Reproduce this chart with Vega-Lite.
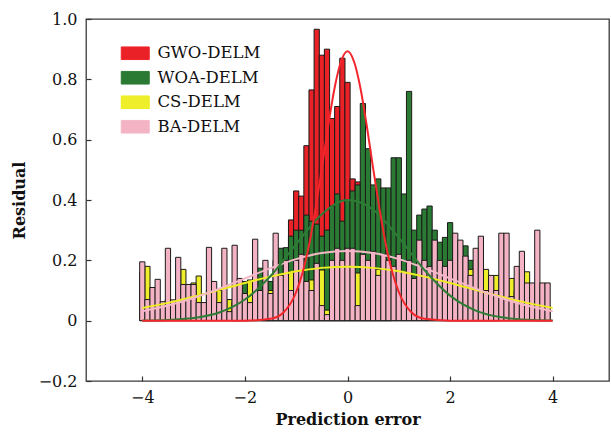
{
 "$schema": "https://vega.github.io/schema/vega-lite/v6.json",
 "width": 523, "height": 362,
 "autosize": {"type": "none"},
 "padding": {"left": 86, "top": 19, "right": 2, "bottom": 54},
 "background": "white",
 "config": {"view": {"stroke": "#3a3a3a", "strokeWidth": 1.3}, "font": "DejaVu Serif"},
 "datasets": {
  "bars": [
   {"s":"GWO-DELM","x":-1.6,"v":0.02},{"s":"GWO-DELM","x":-1.5,"v":0.05},{"s":"GWO-DELM","x":-1.4,"v":0.1},{"s":"GWO-DELM","x":-1.3,"v":0.2},{"s":"GWO-DELM","x":-1.2,"v":0.22},{"s":"GWO-DELM","x":-1.1,"v":0.334},{"s":"GWO-DELM","x":-1.0,"v":0.43},{"s":"GWO-DELM","x":-0.9,"v":0.413},{"s":"GWO-DELM","x":-0.8,"v":0.58},{"s":"GWO-DELM","x":-0.7,"v":0.765},{"s":"GWO-DELM","x":-0.6,"v":0.966},{"s":"GWO-DELM","x":-0.5,"v":0.88},{"s":"GWO-DELM","x":-0.4,"v":0.9},{"s":"GWO-DELM","x":-0.3,"v":0.67},{"s":"GWO-DELM","x":-0.2,"v":0.71},{"s":"GWO-DELM","x":-0.1,"v":0.87},{"s":"GWO-DELM","x":0.0,"v":0.79},{"s":"GWO-DELM","x":0.1,"v":0.47},{"s":"GWO-DELM","x":0.2,"v":0.46},{"s":"GWO-DELM","x":0.3,"v":0.42},{"s":"GWO-DELM","x":0.4,"v":0.36},{"s":"GWO-DELM","x":0.5,"v":0.33},{"s":"GWO-DELM","x":0.6,"v":0.2},{"s":"GWO-DELM","x":0.7,"v":0.08},{"s":"GWO-DELM","x":0.8,"v":0.03},
   {"s":"WOA-DELM","x":-2.2,"v":0.02},{"s":"WOA-DELM","x":-2.1,"v":0.03},{"s":"WOA-DELM","x":-2.0,"v":0.13},{"s":"WOA-DELM","x":-1.9,"v":0.1},{"s":"WOA-DELM","x":-1.8,"v":0.1},{"s":"WOA-DELM","x":-1.7,"v":0.174},{"s":"WOA-DELM","x":-1.6,"v":0.12},{"s":"WOA-DELM","x":-1.5,"v":0.13},{"s":"WOA-DELM","x":-1.4,"v":0.2},{"s":"WOA-DELM","x":-1.3,"v":0.24},{"s":"WOA-DELM","x":-1.2,"v":0.242},{"s":"WOA-DELM","x":-1.1,"v":0.28},{"s":"WOA-DELM","x":-1.0,"v":0.3},{"s":"WOA-DELM","x":-0.9,"v":0.3},{"s":"WOA-DELM","x":-0.8,"v":0.35},{"s":"WOA-DELM","x":-0.7,"v":0.33},{"s":"WOA-DELM","x":-0.6,"v":0.32},{"s":"WOA-DELM","x":-0.5,"v":0.28},{"s":"WOA-DELM","x":-0.4,"v":0.3},{"s":"WOA-DELM","x":-0.3,"v":0.38},{"s":"WOA-DELM","x":-0.2,"v":0.42},{"s":"WOA-DELM","x":-0.1,"v":0.33},{"s":"WOA-DELM","x":0.0,"v":0.4},{"s":"WOA-DELM","x":0.1,"v":0.43},{"s":"WOA-DELM","x":0.2,"v":0.45},{"s":"WOA-DELM","x":0.3,"v":0.72},{"s":"WOA-DELM","x":0.4,"v":0.57},{"s":"WOA-DELM","x":0.5,"v":0.45},{"s":"WOA-DELM","x":0.6,"v":0.47},{"s":"WOA-DELM","x":0.7,"v":0.44},{"s":"WOA-DELM","x":0.8,"v":0.44},{"s":"WOA-DELM","x":0.9,"v":0.54},{"s":"WOA-DELM","x":1.0,"v":0.54},{"s":"WOA-DELM","x":1.1,"v":0.42},{"s":"WOA-DELM","x":1.2,"v":0.76},{"s":"WOA-DELM","x":1.3,"v":0.3},{"s":"WOA-DELM","x":1.4,"v":0.35},{"s":"WOA-DELM","x":1.5,"v":0.37},{"s":"WOA-DELM","x":1.6,"v":0.38},{"s":"WOA-DELM","x":1.7,"v":0.3},{"s":"WOA-DELM","x":1.8,"v":0.26},{"s":"WOA-DELM","x":1.9,"v":0.276},{"s":"WOA-DELM","x":2.0,"v":0.325},{"s":"WOA-DELM","x":2.1,"v":0.2},{"s":"WOA-DELM","x":2.2,"v":0.22},{"s":"WOA-DELM","x":2.3,"v":0.248},{"s":"WOA-DELM","x":2.4,"v":0.2},{"s":"WOA-DELM","x":2.5,"v":0.1},{"s":"WOA-DELM","x":2.6,"v":0.08},{"s":"WOA-DELM","x":2.7,"v":0.05},{"s":"WOA-DELM","x":2.8,"v":0.02},{"s":"WOA-DELM","x":2.9,"v":0.01},
   {"s":"CS-DELM","x":-4.0,"v":0.16},{"s":"CS-DELM","x":-3.9,"v":0.18},{"s":"CS-DELM","x":-3.8,"v":0.05},{"s":"CS-DELM","x":-3.7,"v":0.06},{"s":"CS-DELM","x":-3.6,"v":0.04},{"s":"CS-DELM","x":-3.5,"v":0.07},{"s":"CS-DELM","x":-3.4,"v":0.05},{"s":"CS-DELM","x":-3.3,"v":0.1},{"s":"CS-DELM","x":-3.2,"v":0.17},{"s":"CS-DELM","x":-3.1,"v":0.08},{"s":"CS-DELM","x":-3.0,"v":0.125},{"s":"CS-DELM","x":-2.9,"v":0.148},{"s":"CS-DELM","x":-2.8,"v":0.04},{"s":"CS-DELM","x":-2.7,"v":0.1},{"s":"CS-DELM","x":-2.6,"v":0.05},{"s":"CS-DELM","x":-2.5,"v":0.1},{"s":"CS-DELM","x":-2.4,"v":0.07},{"s":"CS-DELM","x":-2.3,"v":0.07},{"s":"CS-DELM","x":-2.2,"v":0.06},{"s":"CS-DELM","x":-2.1,"v":0.08},{"s":"CS-DELM","x":-2.0,"v":0.05},{"s":"CS-DELM","x":-1.9,"v":0.135},{"s":"CS-DELM","x":-1.8,"v":0.05},{"s":"CS-DELM","x":-1.7,"v":0.08},{"s":"CS-DELM","x":-1.6,"v":0.06},{"s":"CS-DELM","x":-1.5,"v":0.1},{"s":"CS-DELM","x":-1.4,"v":0.05},{"s":"CS-DELM","x":-1.3,"v":0.13},{"s":"CS-DELM","x":-1.2,"v":0.08},{"s":"CS-DELM","x":-1.1,"v":0.162},{"s":"CS-DELM","x":-1.0,"v":0.06},{"s":"CS-DELM","x":-0.9,"v":0.13},{"s":"CS-DELM","x":-0.8,"v":0.06},{"s":"CS-DELM","x":-0.7,"v":0.135},{"s":"CS-DELM","x":-0.6,"v":0.05},{"s":"CS-DELM","x":-0.5,"v":0.168},{"s":"CS-DELM","x":-0.4,"v":0.035},{"s":"CS-DELM","x":-0.3,"v":0.1},{"s":"CS-DELM","x":-0.2,"v":0.05},{"s":"CS-DELM","x":-0.1,"v":0.15},{"s":"CS-DELM","x":0.0,"v":0.1},{"s":"CS-DELM","x":0.1,"v":0.05},{"s":"CS-DELM","x":0.2,"v":0.158},{"s":"CS-DELM","x":0.3,"v":0.04},{"s":"CS-DELM","x":0.4,"v":0.14},{"s":"CS-DELM","x":0.5,"v":0.06},{"s":"CS-DELM","x":0.6,"v":0.17},{"s":"CS-DELM","x":0.7,"v":0.07},{"s":"CS-DELM","x":0.8,"v":0.1},{"s":"CS-DELM","x":0.9,"v":0.15},{"s":"CS-DELM","x":1.0,"v":0.06},{"s":"CS-DELM","x":1.1,"v":0.12},{"s":"CS-DELM","x":1.2,"v":0.08},{"s":"CS-DELM","x":1.3,"v":0.14},{"s":"CS-DELM","x":1.4,"v":0.06},{"s":"CS-DELM","x":1.5,"v":0.1},{"s":"CS-DELM","x":1.6,"v":0.08},{"s":"CS-DELM","x":1.7,"v":0.07},{"s":"CS-DELM","x":1.8,"v":0.09},{"s":"CS-DELM","x":1.9,"v":0.06},{"s":"CS-DELM","x":2.0,"v":0.1},{"s":"CS-DELM","x":2.1,"v":0.07},{"s":"CS-DELM","x":2.2,"v":0.05},{"s":"CS-DELM","x":2.3,"v":0.06},{"s":"CS-DELM","x":2.4,"v":0.17},{"s":"CS-DELM","x":2.5,"v":0.06},{"s":"CS-DELM","x":2.6,"v":0.05},{"s":"CS-DELM","x":2.7,"v":0.17},{"s":"CS-DELM","x":2.8,"v":0.12},{"s":"CS-DELM","x":2.9,"v":0.15},{"s":"CS-DELM","x":3.0,"v":0.05},{"s":"CS-DELM","x":3.1,"v":0.08},{"s":"CS-DELM","x":3.2,"v":0.14},{"s":"CS-DELM","x":3.3,"v":0.1},{"s":"CS-DELM","x":3.4,"v":0.06},{"s":"CS-DELM","x":3.5,"v":0.162},{"s":"CS-DELM","x":3.6,"v":0.05},{"s":"CS-DELM","x":3.7,"v":0.08},{"s":"CS-DELM","x":3.8,"v":0.06},{"s":"CS-DELM","x":3.9,"v":0.05},
   {"s":"BA-DELM","x":-4.0,"v":0.195},{"s":"BA-DELM","x":-3.9,"v":0.07},{"s":"BA-DELM","x":-3.8,"v":0.11},{"s":"BA-DELM","x":-3.7,"v":0.137},{"s":"BA-DELM","x":-3.6,"v":0.063},{"s":"BA-DELM","x":-3.5,"v":0.24},{"s":"BA-DELM","x":-3.4,"v":0.069},{"s":"BA-DELM","x":-3.3,"v":0.21},{"s":"BA-DELM","x":-3.2,"v":0.12},{"s":"BA-DELM","x":-3.1,"v":0.12},{"s":"BA-DELM","x":-3.0,"v":0.12},{"s":"BA-DELM","x":-2.9,"v":0.06},{"s":"BA-DELM","x":-2.8,"v":0.06},{"s":"BA-DELM","x":-2.7,"v":0.243},{"s":"BA-DELM","x":-2.6,"v":0.13},{"s":"BA-DELM","x":-2.5,"v":0.06},{"s":"BA-DELM","x":-2.4,"v":0.24},{"s":"BA-DELM","x":-2.3,"v":0.03},{"s":"BA-DELM","x":-2.2,"v":0.25},{"s":"BA-DELM","x":-2.1,"v":0.14},{"s":"BA-DELM","x":-2.0,"v":0.09},{"s":"BA-DELM","x":-1.9,"v":0.06},{"s":"BA-DELM","x":-1.8,"v":0.27},{"s":"BA-DELM","x":-1.7,"v":0.1},{"s":"BA-DELM","x":-1.6,"v":0.2},{"s":"BA-DELM","x":-1.5,"v":0.09},{"s":"BA-DELM","x":-1.4,"v":0.29},{"s":"BA-DELM","x":-1.3,"v":0.15},{"s":"BA-DELM","x":-1.2,"v":0.2},{"s":"BA-DELM","x":-1.1,"v":0.1},{"s":"BA-DELM","x":-1.0,"v":0.2},{"s":"BA-DELM","x":-0.9,"v":0.22},{"s":"BA-DELM","x":-0.8,"v":0.13},{"s":"BA-DELM","x":-0.7,"v":0.1},{"s":"BA-DELM","x":-0.6,"v":0.19},{"s":"BA-DELM","x":-0.5,"v":0.05},{"s":"BA-DELM","x":-0.4,"v":0.02},{"s":"BA-DELM","x":-0.3,"v":0.2},{"s":"BA-DELM","x":-0.2,"v":0.24},{"s":"BA-DELM","x":-0.1,"v":0.2},{"s":"BA-DELM","x":0.0,"v":0.24},{"s":"BA-DELM","x":0.1,"v":0.24},{"s":"BA-DELM","x":0.2,"v":0.05},{"s":"BA-DELM","x":0.3,"v":0.22},{"s":"BA-DELM","x":0.4,"v":0.2},{"s":"BA-DELM","x":0.5,"v":0.23},{"s":"BA-DELM","x":0.6,"v":0.15},{"s":"BA-DELM","x":0.7,"v":0.22},{"s":"BA-DELM","x":0.8,"v":0.2},{"s":"BA-DELM","x":0.9,"v":0.18},{"s":"BA-DELM","x":1.0,"v":0.22},{"s":"BA-DELM","x":1.1,"v":0.16},{"s":"BA-DELM","x":1.2,"v":0.2},{"s":"BA-DELM","x":1.3,"v":0.14},{"s":"BA-DELM","x":1.4,"v":0.267},{"s":"BA-DELM","x":1.5,"v":0.2},{"s":"BA-DELM","x":1.6,"v":0.18},{"s":"BA-DELM","x":1.7,"v":0.267},{"s":"BA-DELM","x":1.8,"v":0.2},{"s":"BA-DELM","x":1.9,"v":0.18},{"s":"BA-DELM","x":2.0,"v":0.2},{"s":"BA-DELM","x":2.1,"v":0.29},{"s":"BA-DELM","x":2.2,"v":0.267},{"s":"BA-DELM","x":2.3,"v":0.214},{"s":"BA-DELM","x":2.4,"v":0.15},{"s":"BA-DELM","x":2.5,"v":0.24},{"s":"BA-DELM","x":2.6,"v":0.28},{"s":"BA-DELM","x":2.7,"v":0.1},{"s":"BA-DELM","x":2.8,"v":0.15},{"s":"BA-DELM","x":2.9,"v":0.1},{"s":"BA-DELM","x":3.0,"v":0.29},{"s":"BA-DELM","x":3.1,"v":0.29},{"s":"BA-DELM","x":3.2,"v":0.08},{"s":"BA-DELM","x":3.3,"v":0.18},{"s":"BA-DELM","x":3.4,"v":0.23},{"s":"BA-DELM","x":3.5,"v":0.125},{"s":"BA-DELM","x":3.6,"v":0.125},{"s":"BA-DELM","x":3.7,"v":0.3},{"s":"BA-DELM","x":3.8,"v":0.125},{"s":"BA-DELM","x":3.9,"v":0.125}
  ],
  "curves": [
   {"s":"CS-DELM","x":-4,"v":0.042},{"s":"CS-DELM","x":-3.5,"v":0.059},{"s":"CS-DELM","x":-3,"v":0.079},{"s":"CS-DELM","x":-2.5,"v":0.102},{"s":"CS-DELM","x":-2,"v":0.125},{"s":"CS-DELM","x":-1.5,"v":0.146},{"s":"CS-DELM","x":-1,"v":0.164},{"s":"CS-DELM","x":-0.5,"v":0.175},{"s":"CS-DELM","x":0,"v":0.179},{"s":"CS-DELM","x":0.5,"v":0.175},{"s":"CS-DELM","x":1,"v":0.164},{"s":"CS-DELM","x":1.5,"v":0.146},{"s":"CS-DELM","x":2,"v":0.125},{"s":"CS-DELM","x":2.5,"v":0.102},{"s":"CS-DELM","x":3,"v":0.079},{"s":"CS-DELM","x":3.5,"v":0.059},{"s":"CS-DELM","x":4,"v":0.042},
   {"s":"BA-DELM","x":-4,"v":0.031},{"s":"BA-DELM","x":-3.5,"v":0.05},{"s":"BA-DELM","x":-3,"v":0.075},{"s":"BA-DELM","x":-2.5,"v":0.106},{"s":"BA-DELM","x":-2,"v":0.14},{"s":"BA-DELM","x":-1.5,"v":0.174},{"s":"BA-DELM","x":-1,"v":0.204},{"s":"BA-DELM","x":-0.5,"v":0.224},{"s":"BA-DELM","x":0,"v":0.231},{"s":"BA-DELM","x":0.5,"v":0.224},{"s":"BA-DELM","x":1,"v":0.204},{"s":"BA-DELM","x":1.5,"v":0.174},{"s":"BA-DELM","x":2,"v":0.14},{"s":"BA-DELM","x":2.5,"v":0.106},{"s":"BA-DELM","x":3,"v":0.075},{"s":"BA-DELM","x":3.5,"v":0.05},{"s":"BA-DELM","x":4,"v":0.031},
   {"s":"WOA-DELM","x":-4,"v":0.0005},{"s":"WOA-DELM","x":-3.5,"v":0.0022},{"s":"WOA-DELM","x":-3,"v":0.0086},{"s":"WOA-DELM","x":-2.5,"v":0.027},{"s":"WOA-DELM","x":-2,"v":0.07},{"s":"WOA-DELM","x":-1.5,"v":0.148},{"s":"WOA-DELM","x":-1,"v":0.254},{"s":"WOA-DELM","x":-0.5,"v":0.353},{"s":"WOA-DELM","x":0,"v":0.3996},{"s":"WOA-DELM","x":0.5,"v":0.368},{"s":"WOA-DELM","x":1,"v":0.275},{"s":"WOA-DELM","x":1.5,"v":0.168},{"s":"WOA-DELM","x":2,"v":0.083},{"s":"WOA-DELM","x":2.5,"v":0.0335},{"s":"WOA-DELM","x":3,"v":0.011},{"s":"WOA-DELM","x":3.5,"v":0.003},{"s":"WOA-DELM","x":4,"v":0.0006},
   {"s":"GWO-DELM","x":-4,"v":0},{"s":"GWO-DELM","x":-2,"v":0.0001},{"s":"GWO-DELM","x":-1.5,"v":0.006},{"s":"GWO-DELM","x":-1.25,"v":0.027},{"s":"GWO-DELM","x":-1,"v":0.095},{"s":"GWO-DELM","x":-0.875,"v":0.16},{"s":"GWO-DELM","x":-0.75,"v":0.25},{"s":"GWO-DELM","x":-0.625,"v":0.37},{"s":"GWO-DELM","x":-0.5,"v":0.505},{"s":"GWO-DELM","x":-0.375,"v":0.647},{"s":"GWO-DELM","x":-0.25,"v":0.773},{"s":"GWO-DELM","x":-0.125,"v":0.86},{"s":"GWO-DELM","x":0,"v":0.893},{"s":"GWO-DELM","x":0.125,"v":0.86},{"s":"GWO-DELM","x":0.25,"v":0.773},{"s":"GWO-DELM","x":0.375,"v":0.647},{"s":"GWO-DELM","x":0.5,"v":0.505},{"s":"GWO-DELM","x":0.625,"v":0.37},{"s":"GWO-DELM","x":0.75,"v":0.25},{"s":"GWO-DELM","x":0.875,"v":0.16},{"s":"GWO-DELM","x":1,"v":0.095},{"s":"GWO-DELM","x":1.25,"v":0.027},{"s":"GWO-DELM","x":1.5,"v":0.006},{"s":"GWO-DELM","x":2,"v":0.0001},{"s":"GWO-DELM","x":4,"v":0}
  ]
 },
 "layer": [
  {
   "data": {"name": "bars"},
   "mark": {"type": "bar", "width": 5.23, "stroke": "#1a1a1a", "strokeWidth": 1, "opacity": 1},
   "encoding": {
    "x": {"field": "x", "type": "quantitative",
      "scale": {"domain": [-5, 5], "nice": false, "zero": false},
      "axis": {"values": [-4, -2, 0, 2, 4], "title": "Prediction error", "grid": false, "domain": false,
        "tickSize": -5, "tickColor": "#333", "tickWidth": 1.2,
        "labelFont": "DejaVu Serif", "labelFontSize": 16, "labelColor": "#111", "labelPadding": 13,
        "titleFont": "DejaVu Serif", "titleFontSize": 16, "titleFontWeight": "bold", "titleColor": "#111", "titlePadding": 6}},
    "y": {"field": "v", "type": "quantitative",
      "scale": {"domain": [-0.2, 1.0], "nice": false, "zero": false},
      "axis": {"values": [-0.2, 0, 0.2, 0.4, 0.6, 0.8, 1.0], "labelExpr": "datum.value == 0 ? '0' : format(datum.value, '.1f')",
        "title": "Residual", "grid": false, "domain": false,
        "tickSize": -5, "tickColor": "#333", "tickWidth": 1.2,
        "labelFont": "DejaVu Serif", "labelFontSize": 16, "labelColor": "#111", "labelPadding": 14,
        "titleFont": "DejaVu Serif", "titleFontSize": 16, "titleFontWeight": "bold", "titleColor": "#111", "titlePadding": 11}},
    "y2": {"datum": 0},
    "fill": {"field": "s", "type": "nominal",
      "scale": {"domain": ["GWO-DELM", "WOA-DELM", "CS-DELM", "BA-DELM"], "range": ["#ea2126", "#2a7a33", "#eeee2a", "#f4b3c4"]},
      "legend": {"title": null, "orient": "none", "legendX": 41, "legendY": 26, "padding": 0,
        "symbolType": "M-2,-0.9H2V0.9H-2Z", "symbolSize": 196, "symbolStrokeColor": "#222", "symbolStrokeWidth": 1,
        "labelFont": "DejaVu Serif", "labelFontSize": 16.5, "labelColor": "#111", "labelOffset": 14, "rowPadding": 6.5}}
   }
  },
  {
   "data": {"name": "curves"},
   "mark": {"type": "line", "strokeWidth": 2, "interpolate": "monotone"},
   "encoding": {
    "x": {"field": "x", "type": "quantitative"},
    "y": {"field": "v", "type": "quantitative"},
    "stroke": {"field": "s", "type": "nominal",
      "scale": {"domain": ["GWO-DELM", "WOA-DELM", "CS-DELM", "BA-DELM"], "range": ["#f2262b", "#2e7d36", "#eeee22", "#f5b8c8"]},
      "legend": null}
   }
  }
 ]
}
